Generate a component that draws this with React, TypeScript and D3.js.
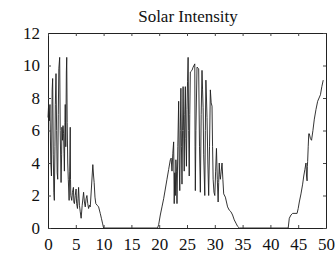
import * as d3 from "d3";
import { useEffect, useRef } from "react";

// hours
const hours = [
  0, 0.1, 0.24, 0.35, 0.5, 0.62, 0.75, 0.84, 0.95, 1.05, 1.14, 1.25, 1.32, 1.44, 1.55, 1.65, 1.75, 1.85, 1.95, 2.1,
  2.2, 2.35, 2.45, 2.5, 2.6, 2.7, 2.8, 2.88, 2.95, 3.05, 3.1, 3.2, 3.3, 3.37, 3.45, 3.55, 3.65, 3.8, 3.9, 4.0,
  4.05, 4.1, 4.27, 4.4, 4.57, 4.65, 4.75, 4.9, 5.05, 5.15, 5.3, 5.4, 5.5, 5.65, 5.8, 5.96, 6.15, 6.4, 6.55, 6.7,
  6.85, 7.0, 7.15, 7.3, 7.45, 7.6, 7.8, 8.06, 8.2, 8.3, 8.45, 8.6, 8.85, 9.1, 9.4, 9.6, 9.8, 10.0,
  19.7, 19.9, 20.2, 20.5, 20.8, 21.1, 21.4, 21.7, 22.0, 22.15, 22.3, 22.45, 22.6, 22.7, 22.8, 22.9, 23.0, 23.1,
  23.2, 23.35, 23.5, 23.6, 23.7, 23.8, 23.9, 24.0, 24.1, 24.2, 24.3, 24.4, 24.5, 24.6, 24.7, 24.8, 24.9, 25.0,
  25.1, 25.2, 25.3, 25.4, 25.5, 25.6, 25.9, 26.1, 26.4, 26.45, 26.5, 26.6, 26.8, 27.1, 27.25, 27.4, 27.55, 27.7,
  27.8, 27.9, 28.0, 28.2, 28.3, 28.4, 28.5, 28.6, 28.75, 28.9, 29.05, 29.2, 29.35, 29.5, 29.6, 29.7, 29.85, 30.0,
  30.15, 30.3, 30.45, 30.6, 30.7, 30.8, 30.9, 31.0, 31.15, 31.3, 31.45, 31.6, 31.9, 32.3, 32.6, 32.9, 33.2, 33.5,
  33.8, 34.1, 34.4,
  43.2, 43.4, 43.7, 44.0, 44.8, 45.0, 45.2, 45.5, 45.8, 46.0, 46.2, 46.4, 46.5, 46.6, 46.65, 46.7, 46.8, 46.9,
  47.0, 47.2, 47.4, 47.65, 47.9, 48.2, 48.5, 48.75, 49.0, 49.25, 49.5,
];

const intensity = [
  6.8, 7.5, 6.6, 7.6, 4, 3.2, 8.5, 9.2, 4.5, 2.2, 1.7, 5, 7.6, 9.5, 6, 3.4, 3, 7, 9.8, 10.5,
  6, 2.8, 4.5, 6.2, 5.4, 6.3, 5.8, 4.6, 3.5, 6.5, 7.6, 5, 9.6, 10.5, 6.5, 4, 3, 1.7, 3.5, 6.2,
  3, 2, 1.7, 2.2, 2.5, 1.6, 1.5, 2, 2.4, 1.5, 1.2, 1.8, 2.5, 1.4, 1, 0.6, 1.4, 2.2, 1.6, 1.3,
  1.8, 2, 1.5, 1.2, 1.4, 1.3, 2.4, 3.9, 3.2, 2.8, 1.9, 1.5, 1.4, 1.3, 0.9, 0.6, 0.3, 0,
  0, 0.2, 0.8, 1.3, 1.8, 2.4, 3, 3.6, 4.2, 4.3, 3.5, 4.6, 5.3, 1.5, 3.4, 2, 4.2, 3.5,
  1.5, 5, 7.8, 4, 2.3, 6, 8.6, 5, 2.7, 6, 8.7, 6, 3.5, 7, 8.7, 5.5, 3.8, 7.3,
  9, 10.5, 6, 3.2, 7, 9.6, 9.7, 9.9, 10.1, 5, 2.3, 6, 9.9, 9.8, 5, 2.2, 7, 9.7,
  8.5, 7.4, 4.5, 2, 6, 9.1, 8, 6.8, 4, 2, 5, 8.5, 7.7, 7.5, 5, 3, 2.2, 2,
  3.5, 4.9, 3, 1.6, 2.8, 4.0, 3.3, 3, 3.5, 4.0, 3, 2.1, 1.9, 1.3, 1.1, 1, 0.8, 0.5,
  0.3, 0.1, 0,
  0, 0.6, 0.8, 0.9, 0.9, 1.2, 1.6, 2.1, 2.7, 3.2, 3.6, 4.0, 3.2, 2.9, 3.8, 4.1, 5, 5.8,
  5.8, 5.5, 5.4, 6, 6.7, 7.3, 7.8, 8.0, 8.2, 8.7, 9.1,
];

const xTicks = [0, 5, 10, 15, 20, 25, 30, 35, 40, 45, 50];
const yTicks = [0, 2, 4, 6, 8, 10, 12];

const title = "Solar Intensity";

export default function App() {
  const svgRef = useRef(null);
  const width = 336;
  const height = 256;
  const margin = { top: 33, right: 10, bottom: 28, left: 48 };
  const innerW = width - margin.left - margin.right;
  const innerH = height - margin.top - margin.bottom;

  const x = d3.scaleLinear().domain([0, 50]).range([0, innerW]);
  const y = d3.scaleLinear().domain([0, 12]).range([innerH, 0]);

  useEffect(() => {
    const svg = d3.select(svgRef.current);
    svg.selectAll("*").remove();

    const g = svg
      .append("g")
      .attr("transform", `translate(${margin.left},${margin.top})`);

    const line = d3
      .line<number>()
      .x((_, i) => x(hours[i]))
      .y((d) => y(d));

    g.append("path")
      .datum(intensity)
      .attr("fill", "none")
      .attr("stroke", "#1e1e1e")
      .attr("stroke-width", 0.9)
      .attr("stroke-linejoin", "round")
      .attr("d", line);

    const font = "'Liberation Serif', 'Times New Roman', serif";

    const bottom = g
      .append("g")
      .attr("transform", `translate(0,${innerH})`)
      .call(d3.axisBottom(x).tickValues(xTicks).tickSize(-3).tickPadding(10).tickSizeOuter(0));
    const left = g
      .append("g")
      .call(d3.axisLeft(y).tickValues(yTicks).tickSize(-3).tickPadding(8).tickSizeOuter(0));
    g.append("g")
      .call(d3.axisTop(x).tickValues(xTicks).tickSize(-3).tickFormat(() => "").tickSizeOuter(0));
    g.append("g")
      .attr("transform", `translate(${innerW},0)`)
      .call(d3.axisRight(y).tickValues(yTicks).tickSize(-3).tickFormat(() => "").tickSizeOuter(0));

    [bottom, left].forEach((a) =>
      a.selectAll("text").attr("font-family", font).attr("font-size", 17).attr("fill", "#111"),
    );
    g.selectAll(".domain").attr("stroke", "#222").attr("stroke-width", 1);
    g.selectAll(".tick line").attr("stroke", "#444");

    svg
      .append("text")
      .attr("x", margin.left + innerW / 2 + 1)
      .attr("y", 22)
      .attr("text-anchor", "middle")
      .attr("font-family", font)
      .attr("font-size", 17)
      .attr("fill", "#111")
      .text(title);
  }, []);

  return (
    <svg
      ref={svgRef}
      width={width}
      height={height}
      style={{ position: "absolute", left: 0, top: 0, background: "#fff" }}
    ></svg>
  );
}
